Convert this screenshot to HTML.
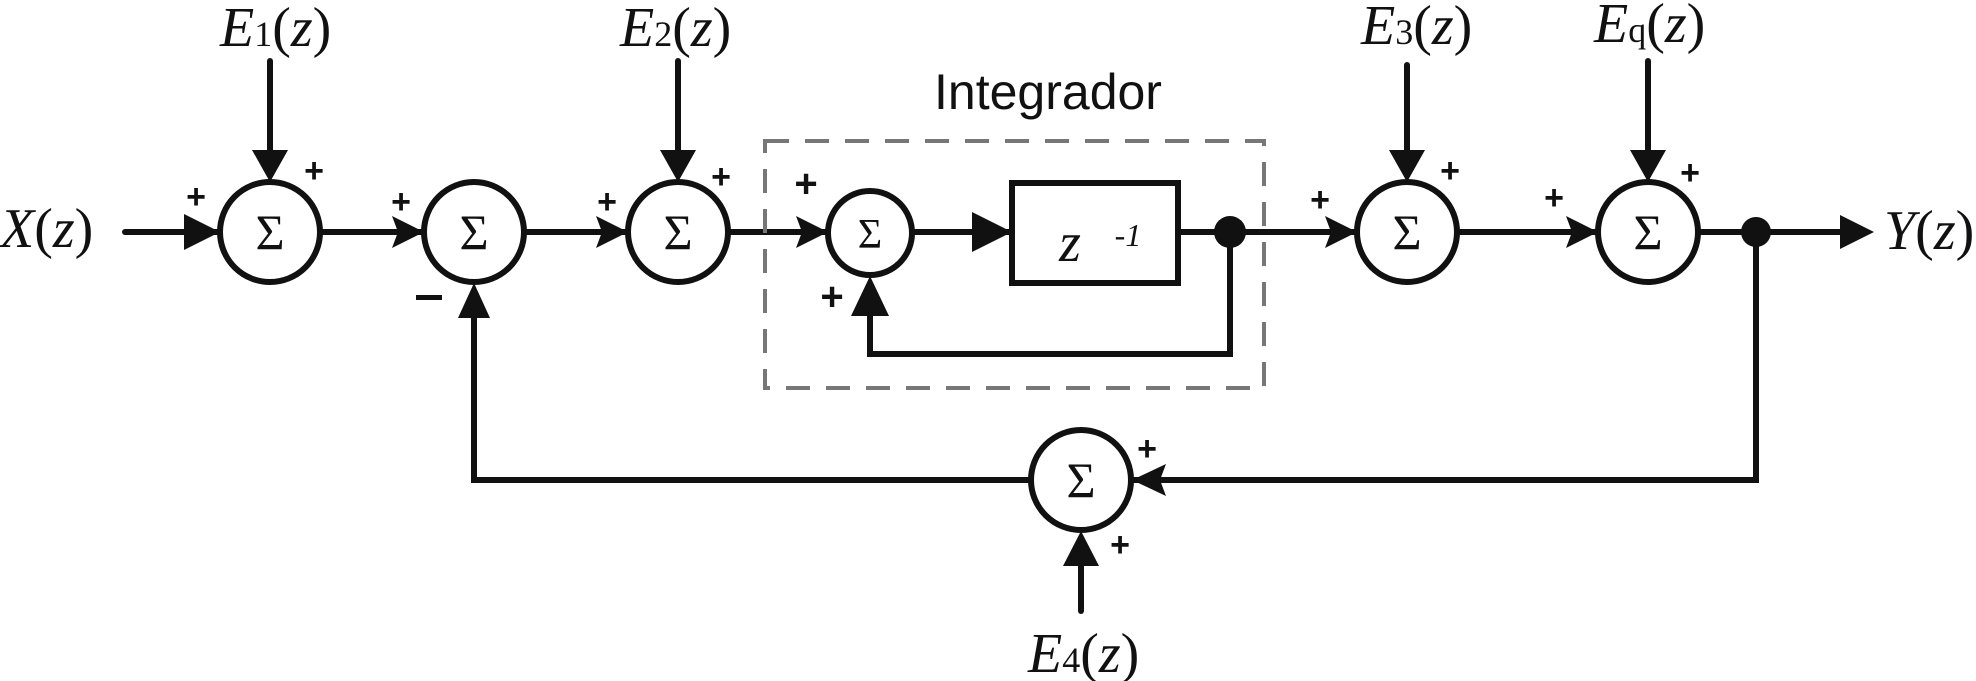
<!DOCTYPE html>
<html><head><meta charset="utf-8"><style>
html,body{margin:0;padding:0;background:#fff;}
svg{display:block;}
.e{font-family:"Liberation Serif",serif;font-style:italic;font-size:56px;fill:#111;}
.sub{font-style:normal;font-size:36px;}
.s{font-family:"Liberation Serif",serif;font-size:50px;fill:#111;text-anchor:middle;}
.p{font-family:"Liberation Sans",sans-serif;font-size:34px;font-weight:bold;fill:#111;text-anchor:middle;}
</style></head><body>
<svg width="1976" height="681" viewBox="0 0 1976 681" xmlns="http://www.w3.org/2000/svg">
<g stroke="#111" stroke-width="6" fill="none" stroke-linecap="round">
<!-- main line segments -->
<line x1="125" y1="232" x2="219" y2="232"/>
<line x1="321" y1="232" x2="423" y2="232"/>
<line x1="525" y1="232" x2="627" y2="232"/>
<line x1="729" y1="232" x2="827" y2="232"/>
<line x1="913" y1="232" x2="1012" y2="232"/>
<line x1="1178" y1="232" x2="1356" y2="232"/>
<line x1="1458" y1="232" x2="1597" y2="232"/>
<line x1="1699" y1="232" x2="1850" y2="232"/>
<!-- inner feedback -->
<polyline points="1230,232 1230,354 870,354 870,300"/>
<!-- outer feedback -->
<polyline points="1756,232 1756,480 1132,480"/>
<polyline points="1030,480 474,480 474,300"/>
<!-- disturbance inputs -->
<line x1="270" y1="61" x2="270" y2="170"/>
<line x1="678" y1="61" x2="678" y2="170"/>
<line x1="1407" y1="65" x2="1407" y2="170"/>
<line x1="1648" y1="61" x2="1648" y2="170"/>
<line x1="1081" y1="545" x2="1081" y2="611"/>
<!-- circles -->
<circle cx="270" cy="232" r="50"/>
<circle cx="474" cy="232" r="50"/>
<circle cx="678" cy="232" r="50"/>
<circle cx="870" cy="233" r="42"/>
<circle cx="1407" cy="232" r="50"/>
<circle cx="1648" cy="232" r="50"/>
<circle cx="1081" cy="480" r="50"/>
<rect x="1012" y="183" width="166" height="100"/>
</g>
<rect x="765" y="141" width="499" height="247" fill="none" stroke="#777" stroke-width="4" stroke-dasharray="24,16"/>
<g fill="#111">
<circle cx="1230" cy="232" r="16"/>
<circle cx="1756" cy="232" r="15"/>
<!-- arrowheads right -->
<polygon points="220,232 184,214 184,250"/>
<polygon points="424,232 392,216 398,232 392,248"/>
<polygon points="628,232 596,216 602,232 596,248"/>
<polygon points="828,232 796,216 802,232 796,248"/>
<polygon points="1012,232 972,212 972,252"/>
<polygon points="1357,232 1325,216 1331,232 1325,248"/>
<polygon points="1598,232 1566,216 1572,232 1566,248"/>
<polygon points="1874,232 1840,215 1840,249"/>
<!-- down arrows -->
<polygon points="270,182 252,150 288,150"/>
<polygon points="678,182 660,150 696,150"/>
<polygon points="1407,182 1389,150 1425,150"/>
<polygon points="1648,182 1630,150 1666,150"/>
<!-- up arrows -->
<polygon points="474,283 458,318 490,318"/>
<polygon points="870,276 851,316 889,316"/>
<polygon points="1081,531 1063,566 1099,566"/>
<!-- left arrow into bottom circle -->
<polygon points="1132,480 1166,464 1160,480 1166,496"/>
</g>
<!-- sigmas -->
<text class="s" x="270" y="249">Σ</text>
<text class="s" x="474" y="249">Σ</text>
<text class="s" x="678" y="249">Σ</text>
<text class="s" x="870" y="248" style="font-size:42px">Σ</text>
<text class="s" x="1407" y="249">Σ</text>
<text class="s" x="1648" y="249">Σ</text>
<text class="s" x="1081" y="497">Σ</text>
<!-- signs -->
<text class="p" x="196" y="208">+</text>
<text class="p" x="314" y="182">+</text>
<text class="p" x="401" y="213">+</text>
<text class="p" x="607" y="213">+</text>
<text class="p" x="721" y="188">+</text>
<text class="p" x="806" y="197" style="font-size:40px">+</text>
<text class="p" x="832" y="310" style="font-size:40px">+</text>
<text class="p" x="1320" y="211">+</text>
<text class="p" x="1450" y="182">+</text>
<text class="p" x="1554" y="209">+</text>
<text class="p" x="1690" y="184">+</text>
<text class="p" x="1147" y="460">+</text>
<text class="p" x="1120" y="556">+</text>
<rect x="416" y="295" width="26" height="5" fill="#111"/>
<!-- labels -->
<text x="1048" y="109" style="font-family:'Liberation Sans',sans-serif;font-size:50px;fill:#111;text-anchor:middle">Integrador</text>
<text class="e" x="1070" y="261" text-anchor="middle">z</text>
<text x="1128" y="246" style="font-family:'Liberation Serif',serif;font-style:italic;font-size:32px;fill:#111;text-anchor:middle">-1</text>
<text class="e" x="0" y="247">X<tspan style="font-style:normal">(</tspan>z<tspan style="font-style:normal">)</tspan></text>
<text class="e" x="1884" y="249">Y<tspan style="font-style:normal">(</tspan>z<tspan style="font-style:normal">)</tspan></text>
<text class="e" x="220" y="46">E<tspan class="sub">1</tspan><tspan style="font-style:normal">(</tspan>z<tspan style="font-style:normal">)</tspan></text>
<text class="e" x="620" y="46">E<tspan class="sub">2</tspan><tspan style="font-style:normal">(</tspan>z<tspan style="font-style:normal">)</tspan></text>
<text class="e" x="1361" y="44">E<tspan class="sub">3</tspan><tspan style="font-style:normal">(</tspan>z<tspan style="font-style:normal">)</tspan></text>
<text class="e" x="1594" y="42">E<tspan class="sub">q</tspan><tspan style="font-style:normal">(</tspan>z<tspan style="font-style:normal">)</tspan></text>
<text class="e" x="1028" y="672">E<tspan class="sub">4</tspan><tspan style="font-style:normal">(</tspan>z<tspan style="font-style:normal">)</tspan></text>
</svg>
</body></html>
